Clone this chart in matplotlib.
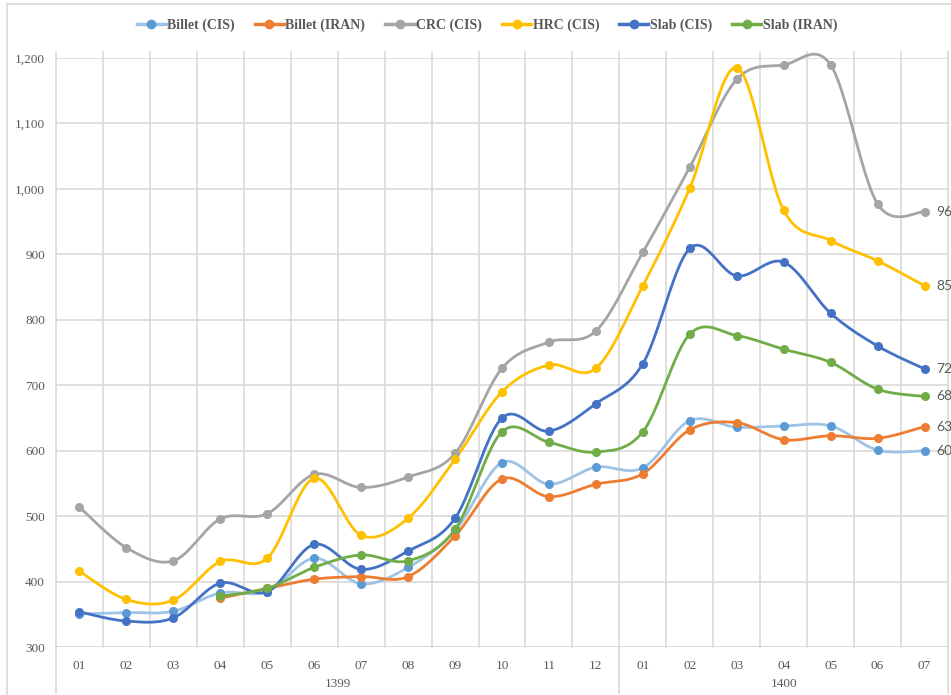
import numpy as np
import matplotlib
matplotlib.use("Agg")
import matplotlib.pyplot as plt
from matplotlib.lines import Line2D
from matplotlib.patches import Rectangle

# categories: months of 1399 and 1400
months = ["01", "02", "03", "04", "05", "06", "07", "08", "09", "10", "11", "12",
          "01", "02", "03", "04", "05", "06", "07"]
years = ["1399", "1400"]
year_sizes = [12, 7]

billet_cis = [351, 353, 355, 383, 385, 436, 397, 422, 478, 582, 549, 575,
              574, 646, 636, 638, 638, 601, 600]
billet_iran = [None, None, None, 375, 390, 404, 408, 408, 470, 557, 530, 549,
               565, 632, 643, 617, 623, 619, 637]
crc_cis = [514, 452, 432, 496, 504, 564, 544, 560, 596, 726, 766, 783,
           903, 1033, 1167, 1189, 1189, 977, 965]
hrc_cis = [416, 373, 372, 431, 436, 558, 471, 497, 587, 690, 731, 726,
           852, 1001, 1185, 967, 921, 890, 852]
slab_cis = [354, 340, 345, 398, 385, 457, 419, 447, 497, 650, 630, 672,
            733, 909, 867, 888, 810, 760, 725]
slab_iran = [None, None, None, 378, 390, 422, 441, 432, 480, 629, 613, 598,
             629, 778, 776, 755, 735, 694, 683]

series_names = ["Billet (CIS)", "Billet (IRAN)", "CRC (CIS)", "HRC (CIS)",
                "Slab (CIS)", "Slab (IRAN)"]

GRID = "#D9D9D9"
TEXT = "#595959"
FONT = "Liberation Serif"


def smooth(xs, ys, steps=30):
    """Excel-like smoothed line (Catmull-Rom as cubic Bezier)."""
    xs = np.asarray(xs, float)
    ys = np.asarray(ys, float)
    n = len(xs)
    out_x, out_y = [], []
    t = np.linspace(0, 1, steps)
    for i in range(n - 1):
        i0 = max(i - 1, 0)
        i3 = min(i + 2, n - 1)
        p0 = np.array([xs[i], ys[i]])
        p3 = np.array([xs[i + 1], ys[i + 1]])
        c1 = p0 + (p3 - np.array([xs[i0], ys[i0]])) / 6.0
        c2 = p3 - (np.array([xs[i3], ys[i3]]) - p0) / 6.0
        b = ((1 - t) ** 3)[:, None] * p0 + (3 * (1 - t) ** 2 * t)[:, None] * c1 \
            + (3 * (1 - t) * t ** 2)[:, None] * c2 + (t ** 3)[:, None] * p3
        out_x.extend(b[:, 0])
        out_y.extend(b[:, 1])
    return out_x, out_y


def main():
    fig = plt.figure(figsize=(9.51, 6.95), dpi=100)
    W, H = 951, 695
    ax = fig.add_axes([56 / W, (H - 647.3) / H, (948 - 56) / W, (647.3 - 57.8) / H])

    # outer chart border
    fig.add_artist(Rectangle((7 / W, -0.1), 1.2, (H - 4) / H + 0.1,
                             transform=fig.transFigure, fill=False,
                             edgecolor=GRID, linewidth=1.2))

    n = len(months)
    x = np.arange(n)
    data = [billet_cis, billet_iran, crc_cis, hrc_cis, slab_cis, slab_iran]
    line_cols = ["#9DC3E6", "#ED7D31", "#A5A5A5", "#FFC000", "#4472C4", "#70AD47"]
    mark_cols = ["#5B9BD5", "#ED7D31", "#A5A5A5", "#FFC000", "#4472C4", "#70AD47"]
    end_labels = []

    for vals, lc, mc in zip(data, line_cols, mark_cols):
        idx = [i for i, v in enumerate(vals) if v is not None]
        vx = [x[i] for i in idx]
        vy = [vals[i] for i in idx]
        sx, sy = smooth(vx, vy)
        ax.plot(sx, sy, color=lc, linewidth=2.0, solid_capstyle="round",
                zorder=3, clip_on=False)
        ax.plot(vx, vy, linestyle="none", marker="o", markersize=5.5,
                color=mc, zorder=4, clip_on=False)
        end_labels.append((vx[-1], vy[-1]))

    # data labels on the last point (cut by the chart edge, as in the original)
    for xe, ye in end_labels:
        ax.annotate(f"{ye}", (xe, ye), xytext=(8.5, 0), textcoords="offset points",
                    va="center", ha="left", fontsize=10, color=TEXT,
                    family="Lato", annotation_clip=False)

    ax.set_xlim(-0.5, n - 0.5)
    ax.set_ylim(300, 1200)
    ax.set_yticks(range(300, 1201, 100))
    ax.set_yticklabels([f"{v:,}" for v in range(300, 1201, 100)],
                       fontsize=9.5, color=TEXT, family=FONT)
    ax.tick_params(axis="y", length=0, pad=8)
    ax.yaxis.grid(True, color=GRID, linewidth=1.2)
    ax.set_axisbelow(True)

    # vertical gridlines between categories
    for b in np.arange(-0.5, n, 1.0):
        ax.plot([b, b], [300, 1209], color=GRID, linewidth=1.2, zorder=0,
                clip_on=False)
    for s in ax.spines.values():
        s.set_visible(False)
    ax.axhline(300, color=GRID, linewidth=1.2, zorder=1)

    # two-level category axis
    ax.set_xticks(x)
    ax.set_xticklabels(months, fontsize=9.5, color=TEXT, family=FONT)
    ax.tick_params(axis="x", length=0, pad=9)
    start = 0
    trans = ax.get_xaxis_transform()
    bounds = [-0.5]
    for yr, size in zip(years, year_sizes):
        mid = start + (size - 1) / 2
        ax.text(mid, -0.063, yr, transform=trans, ha="center", va="center",
                fontsize=9.5, color=TEXT, family=FONT)
        start += size
        bounds.append(start - 0.5)
    for b in bounds:
        ax.plot([b, b], [0, -0.077], transform=trans, color=GRID,
                linewidth=1.2, clip_on=False)

    # legend
    handles = [Line2D([], [], color=lc, linewidth=2.5, marker="o",
                      markersize=6, markerfacecolor=mc, markeredgecolor=mc)
               for lc, mc in zip(line_cols, mark_cols)]
    fig.legend(handles, series_names, loc="center", bbox_to_anchor=(0.512, 1 - 25 / H),
               ncol=6, frameon=False, handlelength=2.1, handletextpad=0.1,
               columnspacing=1.45, prop={"family": FONT, "size": 10, "weight": "bold"},
               labelcolor=TEXT)

    fig.savefig("out.png", dpi=100)
    plt.close(fig)


if __name__ == "__main__":
    main()
